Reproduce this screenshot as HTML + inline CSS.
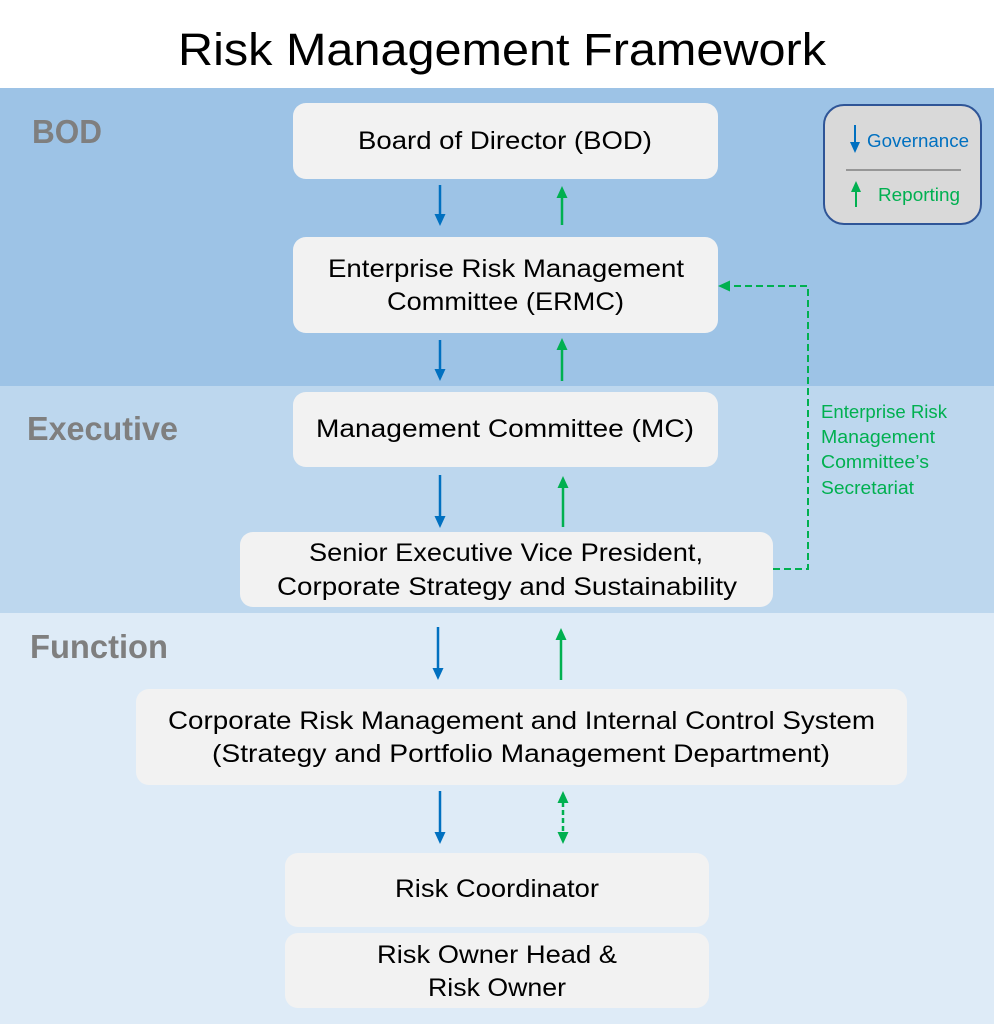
<!DOCTYPE html>
<html><head><meta charset="utf-8"><style>
html,body{margin:0;padding:0;background:#fff;}
svg{display:block;}
text{font-family:"Liberation Sans",sans-serif;}
</style></head><body>
<svg width="994" height="1024" viewBox="0 0 994 1024" xmlns="http://www.w3.org/2000/svg">
<rect x="0" y="0" width="994" height="1024" fill="#fff"/>
<text x="178" y="65" font-size="45" fill="#000" textLength="648" lengthAdjust="spacingAndGlyphs">Risk Management Framework</text>
<!-- bands -->
<rect x="0" y="88" width="994" height="298" fill="#9DC3E6"/>
<rect x="0" y="386" width="994" height="227" fill="#BDD7EE"/>
<rect x="0" y="613" width="994" height="411" fill="#DEEBF7"/>
<!-- band labels -->
<g font-weight="bold" fill="#7F7F7F" font-size="33">
<text x="32" y="143" textLength="70" lengthAdjust="spacingAndGlyphs">BOD</text>
<text x="27" y="440" textLength="151" lengthAdjust="spacingAndGlyphs">Executive</text>
<text x="30" y="658" textLength="138" lengthAdjust="spacingAndGlyphs">Function</text>
</g>
<!-- boxes -->
<g fill="#F2F2F2">
<rect x="293" y="103" width="425" height="76" rx="13"/>
<rect x="293" y="237" width="425" height="96" rx="13"/>
<rect x="293" y="392" width="425" height="75" rx="13"/>
<rect x="240" y="532" width="533" height="75" rx="13"/>
<rect x="136" y="689" width="771" height="96" rx="13"/>
<rect x="285" y="853" width="424" height="74" rx="13"/>
<rect x="285" y="933" width="424" height="75" rx="13"/>
</g>
<g fill="#000" font-size="25">
<text x="358" y="149" textLength="294" lengthAdjust="spacingAndGlyphs">Board of Director (BOD)</text>
<text x="328" y="277" textLength="356" lengthAdjust="spacingAndGlyphs">Enterprise Risk Management</text>
<text x="387" y="310" textLength="237" lengthAdjust="spacingAndGlyphs">Committee (ERMC)</text>
<text x="316" y="437" textLength="378" lengthAdjust="spacingAndGlyphs">Management Committee (MC)</text>
<text x="309" y="561" textLength="394" lengthAdjust="spacingAndGlyphs">Senior Executive Vice President,</text>
<text x="277" y="595" textLength="460" lengthAdjust="spacingAndGlyphs">Corporate Strategy and Sustainability</text>
<text x="168" y="729" textLength="707" lengthAdjust="spacingAndGlyphs">Corporate Risk Management and Internal Control System</text>
<text x="212" y="762" textLength="618" lengthAdjust="spacingAndGlyphs">(Strategy and Portfolio Management Department)</text>
<text x="395" y="897" textLength="204" lengthAdjust="spacingAndGlyphs">Risk Coordinator</text>
<text x="377" y="963" textLength="240" lengthAdjust="spacingAndGlyphs">Risk Owner Head &amp;</text>
<text x="428" y="996" textLength="138" lengthAdjust="spacingAndGlyphs">Risk Owner</text>
</g>
<!-- blue down arrows -->
<g stroke="#0070C0" stroke-width="2.5" fill="none">
<line x1="440" y1="185" x2="440" y2="216"/>
<line x1="440" y1="340" x2="440" y2="371"/>
<line x1="440" y1="475" x2="440" y2="518"/>
<line x1="438" y1="627" x2="438" y2="670"/>
<line x1="440" y1="791" x2="440" y2="834"/>
</g>
<g fill="#0070C0">
<polygon points="434.5,214 445.5,214 440,226"/>
<polygon points="434.5,369 445.5,369 440,381"/>
<polygon points="434.5,516 445.5,516 440,528"/>
<polygon points="432.5,668 443.5,668 438,680"/>
<polygon points="434.5,832 445.5,832 440,844"/>
</g>
<!-- green up arrows -->
<g stroke="#00B050" stroke-width="2.5" fill="none">
<line x1="562" y1="196" x2="562" y2="225"/>
<line x1="562" y1="348" x2="562" y2="381"/>
<line x1="563" y1="486" x2="563" y2="527"/>
<line x1="561" y1="638" x2="561" y2="680"/>
<line x1="563" y1="802" x2="563" y2="834" stroke-dasharray="5,3"/>
</g>
<g fill="#00B050">
<polygon points="556.5,198 567.5,198 562,186"/>
<polygon points="556.5,350 567.5,350 562,338"/>
<polygon points="557.5,488 568.5,488 563,476"/>
<polygon points="555.5,640 566.5,640 561,628"/>
<polygon points="557.5,803 568.5,803 563,791"/>
<polygon points="557.5,832 568.5,832 563,844"/>
</g>
<!-- dashed secretariat connector -->
<polyline points="773,569 808,569 808,286 728,286" fill="none" stroke="#00B050" stroke-width="2" stroke-dasharray="7,4"/>
<polygon points="718,286 730,280.5 730,291.5" fill="#00B050"/>
<g fill="#00B050" font-size="18.5">
<text x="821" y="418" textLength="126" lengthAdjust="spacingAndGlyphs">Enterprise Risk</text>
<text x="821" y="443" textLength="114" lengthAdjust="spacingAndGlyphs">Management</text>
<text x="821" y="468" textLength="108" lengthAdjust="spacingAndGlyphs">Committee’s</text>
<text x="821" y="494" textLength="93" lengthAdjust="spacingAndGlyphs">Secretariat</text>
</g>
<!-- legend -->
<rect x="824" y="105" width="157" height="119" rx="20" fill="#D9D9D9" stroke="#2F5597" stroke-width="2"/>
<line x1="855" y1="125" x2="855" y2="144" stroke="#0070C0" stroke-width="2"/>
<polygon points="850,142 860,142 855,153" fill="#0070C0"/>
<text x="867" y="147" font-size="18" fill="#0070C0" textLength="102" lengthAdjust="spacingAndGlyphs">Governance</text>
<line x1="846" y1="170" x2="961" y2="170" stroke="#808080" stroke-width="1.5"/>
<line x1="856" y1="190" x2="856" y2="207" stroke="#00B050" stroke-width="2"/>
<polygon points="851,192 861,192 856,181" fill="#00B050"/>
<text x="878" y="201" font-size="18" fill="#00B050" textLength="82" lengthAdjust="spacingAndGlyphs">Reporting</text>
</svg>
</body></html>
